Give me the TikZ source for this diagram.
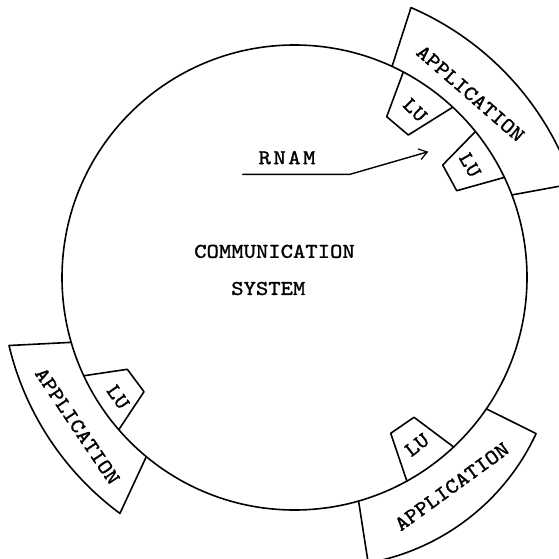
\documentclass[tikz,border=0pt]{standalone}
\usepackage{fontspec}
\newfontfamily\tw{lmmono10-regular.otf}[FakeStretch=1.12,FakeBold=1.3]
\usetikzlibrary{arrows.meta}

\begin{document}
\begin{tikzpicture}[x=1pt,y=-1pt,line join=round,line cap=round,
  outline/.style={line width=1.6pt},
  lbl/.style={font=\tw\fontsize{21}{25}\selectfont,inner sep=0pt}]
\useasboundingbox (0,0) rectangle (559,559);
\clip (0,0) rectangle (559,559);
\begin{scope}[shift={(294.5,277.5)}]
  \coordinate (C) at (0,0);
  % communication system
  \draw[outline] (C) circle[radius=232.5];
  \node[lbl] (comm) at (-20,-26.1) {COMMUNICATION};
  \node[lbl] (sys) at (-26.2,11) {SYSTEM};

  % application, upper right
  \draw[outline] (-65.2:232.5) -- (-66.65:294) arc[start angle=-66.65,end angle=-18.6,radius=294]
    -- (-20.8:232.5);
  \node[lbl,rotate=-41] (appA) at (176,-184) {APPLICATION};
  \draw[outline] (-62.1:232.5) -- (92.2,-160.8) -- (113.8,-142.5) -- (-47.1:232.5);
  \node[lbl,rotate=-45] (luA) at (120.5,-167.5) {LU};
  \draw[outline] (-38.9:232.5) -- (148.2,-112.5) -- (162.2,-86.8) -- (-25.5:232.5);
  \node[lbl,rotate=-60] (luB) at (175.5,-112.5) {LU};

  % application, left
  \draw[outline] (163.8:232.5) -- (166.6:293.5) arc[start angle=166.6,end angle=126.5,radius=293.5]
    -- (129.6:232.5);
  \node[lbl,rotate=-56] (appB) at (-217,148.5) {APPLICATION};
  \draw[outline] (155:232.5) -- (-167.2,91.8) -- (-150.5,114.2) -- (139.1:232.5);
  \node[lbl,rotate=-55] (luC) at (-176.5,119.5) {LU};

  % application, bottom (outer edge bends round its own centre)
  \draw[outline] (34.4:232.5) -- (241.6,156.1) arc[start angle=24.9,end angle=79.9,radius=229.5]
    -- (74:232.5);
  \node[lbl,rotate=36] (appC) at (157.4,209.1) {APPLICATION};
  \draw[outline] (46.8:232.5) -- (119.5,139.8) -- (96.2,155.8) -- (61.1:232.5);
  \node[lbl,rotate=38] (luD) at (122.5,167.5) {LU};

  % RNAM pointer
  \node[lbl] (rnam) at (-7.5,-119.8) {R\kern2.5pt N\kern2.5pt A\kern2.5pt M};
  \coordinate (pstart) at (-51.8,-103.2);
  \coordinate (pbend) at (55.5,-103.2);
  \coordinate (ptip) at (133.8,-125.8);
  \draw[line width=1.4pt,-{Straight Barb[length=8pt,width=11pt,line width=1.2pt]}]
    (pstart) -- (pbend) -- (ptip);
\end{scope}
\end{tikzpicture}
\end{document}
